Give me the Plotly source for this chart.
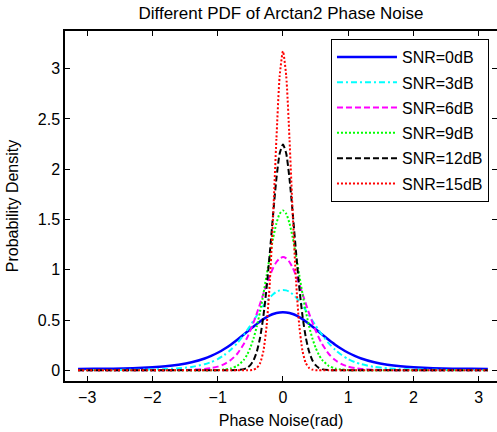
import plotly.graph_objects as go

# Phase noise (rad) sample positions
phase = [-3.14, -2.9, -2.6, -2.3, -2.0, -1.8, -1.6, -1.4, -1.2, -1.1, -1.0, -0.9, -0.8, -0.7,
         -0.6, -0.55, -0.5, -0.45, -0.4, -0.35, -0.3, -0.25, -0.2, -0.15, -0.1, -0.05,
         0.0,
         0.05, 0.1, 0.15, 0.2, 0.25, 0.3, 0.35, 0.4, 0.45, 0.5, 0.55, 0.6,
         0.7, 0.8, 0.9, 1.0, 1.1, 1.2, 1.4, 1.6, 1.8, 2.0, 2.3, 2.6, 2.9, 3.14]

snr_0db = [0.014, 0.015, 0.017, 0.021, 0.030, 0.040, 0.056, 0.080, 0.118, 0.144, 0.175, 0.212, 0.255, 0.304,
           0.356, 0.383, 0.410, 0.436, 0.462, 0.486, 0.509, 0.529, 0.546, 0.560, 0.570, 0.576,
           0.578,
           0.576, 0.570, 0.560, 0.546, 0.529, 0.509, 0.486, 0.462, 0.436, 0.410, 0.383, 0.356,
           0.304, 0.255, 0.212, 0.175, 0.144, 0.118, 0.080, 0.056, 0.040, 0.030, 0.021, 0.017, 0.015, 0.014]

snr_3db = [0.0034, 0.0035, 0.004, 0.006, 0.009, 0.013, 0.020, 0.034, 0.061, 0.082, 0.112, 0.152, 0.204, 0.271,
           0.353, 0.398, 0.446, 0.496, 0.546, 0.596, 0.643, 0.687, 0.725, 0.757, 0.781, 0.795,
           0.800,
           0.795, 0.781, 0.757, 0.725, 0.687, 0.643, 0.596, 0.546, 0.496, 0.446, 0.398, 0.353,
           0.271, 0.204, 0.152, 0.112, 0.082, 0.061, 0.034, 0.020, 0.013, 0.009, 0.006, 0.004, 0.0035, 0.0034]

snr_6db = [0.0003, 0.0003, 0.0003, 0.0005, 0.001, 0.001, 0.003, 0.006, 0.014, 0.022, 0.037, 0.061, 0.102, 0.165,
           0.262, 0.324, 0.396, 0.478, 0.567, 0.663, 0.760, 0.855, 0.943, 1.019, 1.077, 1.113,
           1.126,
           1.113, 1.077, 1.019, 0.943, 0.855, 0.760, 0.663, 0.567, 0.478, 0.396, 0.324, 0.262,
           0.165, 0.102, 0.061, 0.037, 0.022, 0.014, 0.006, 0.003, 0.001, 0.001, 0.0005, 0.0003, 0.0003, 0.0003]

snr_9db = [0.0001, 0.0001, 0.0001, 0.0001, 0.0001, 0.0001, 0.0001, 0.0001, 0.0006, 0.001, 0.003, 0.008, 0.019, 0.045,
           0.104, 0.155, 0.225, 0.319, 0.439, 0.587, 0.759, 0.947, 1.139, 1.317, 1.462, 1.557,
           1.590,
           1.557, 1.462, 1.317, 1.139, 0.947, 0.759, 0.587, 0.439, 0.319, 0.225, 0.155, 0.104,
           0.045, 0.019, 0.008, 0.003, 0.001, 0.0006, 0.0001, 0.0001, 0.0001, 0.0001, 0.0001, 0.0001, 0.0001, 0.0001]

snr_12db = [0.0, 0.0, 0.0, 0.0, 0.0, 0.0, 0.0, 0.0, 0.0, 0.0, 0.0, 0.0001, 0.0005, 0.0024,
            0.012, 0.025, 0.052, 0.101, 0.187, 0.327, 0.538, 0.825, 1.178, 1.559, 1.908, 2.156,
            2.246,
            2.156, 1.908, 1.559, 1.178, 0.825, 0.538, 0.327, 0.187, 0.101, 0.052, 0.025, 0.012,
            0.0024, 0.0005, 0.0001, 0.0, 0.0, 0.0, 0.0, 0.0, 0.0, 0.0, 0.0, 0.0, 0.0, 0.0]

snr_15db = [0.0, 0.0, 0.0, 0.0, 0.0, 0.0, 0.0, 0.0, 0.0, 0.0, 0.0, 0.0, 0.0, 0.0,
            0.0001, 0.0005, 0.002, 0.007, 0.024, 0.072, 0.191, 0.444, 0.893, 1.548, 2.303, 2.928,
            3.173,
            2.928, 2.303, 1.548, 0.893, 0.444, 0.191, 0.072, 0.024, 0.007, 0.002, 0.0005, 0.0001,
            0.0, 0.0, 0.0, 0.0, 0.0, 0.0, 0.0, 0.0, 0.0, 0.0, 0.0, 0.0, 0.0, 0.0]

series_names = ["SNR=0dB", "SNR=3dB", "SNR=6dB", "SNR=9dB", "SNR=12dB", "SNR=15dB"]
series_values = [snr_0db, snr_3db, snr_6db, snr_9db, snr_12db, snr_15db]
series_colors = ["#0000ff", "#00ffff", "#ff00ff", "#00ff00", "#000000", "#ff0000"]
series_dash = ["solid", "6px,3px,2px,3px", "6px,3px", "2px,2px", "6px,3px", "2px,2px"]
series_width = [2.5, 2, 2, 2, 2, 2]

x_ticks = [-3, -2, -1, 0, 1, 2, 3]
y_ticks = [0, 0.5, 1, 1.5, 2, 2.5, 3]
y_tick_labels = ["0", "0.5", "1", "1.5", "2", "2.5", "3"]

FONT = "Arial, 'Liberation Sans', Helvetica, sans-serif"
FIG_W, FIG_H = 497, 432

fig = go.Figure()
for i, (name, vals) in enumerate(zip(series_names, series_values)):
    fig.add_trace(go.Scatter(
        x=phase, y=vals, mode="lines", name=name, legendgroup=name,
        line=dict(color=series_colors[i], dash=series_dash[i], width=series_width[i],
                  shape="spline", smoothing=0.6),
    ))

axis_common = dict(showline=True, linecolor="black", linewidth=1.5, mirror="ticks",
                   ticks="inside", ticklen=5, tickcolor="black", tickwidth=1,
                   showgrid=False, zeroline=False, automargin=False,
                   tickfont=dict(family=FONT, size=16, color="black"))

fig.update_layout(
    width=FIG_W, height=FIG_H,
    margin=dict(l=65, r=0, t=31, b=51),
    paper_bgcolor="white", plot_bgcolor="white",
    font=dict(family=FONT, size=16, color="black"),
    title=dict(text="Different PDF of Arctan2 Phase Noise", x=0.5, xref="paper",
               y=1 - 13 / FIG_H, yref="container", yanchor="middle",
               font=dict(family=FONT, size=17, color="black")),
    xaxis=dict(range=[-3.34, 3.28], tickvals=x_ticks, ticklabelstandoff=1,
               title=dict(text="Phase Noise(rad)", standoff=10,
                          font=dict(family=FONT, size=16, color="black")),
               **axis_common),
    yaxis=dict(range=[-0.106, 3.374], tickvals=y_ticks, ticktext=y_tick_labels,
               title=dict(text="Probability Density", standoff=15,
                          font=dict(family=FONT, size=16, color="black")),
               **axis_common),
    legend=dict(x=0.6157, y=0.977, xanchor="left", yanchor="top",
                bgcolor="white", bordercolor="black", borderwidth=1,
                font=dict(family=FONT, size=16, color="black"),
                tracegroupgap=1.5, itemwidth=60, entrywidth=160),
    showlegend=True,
)

# Remove the browser's default body margin so the figure fills the window exactly.
fig.write_html("out.html", config={"displayModeBar": False},
               post_script="document.body.style.margin='0px';")
